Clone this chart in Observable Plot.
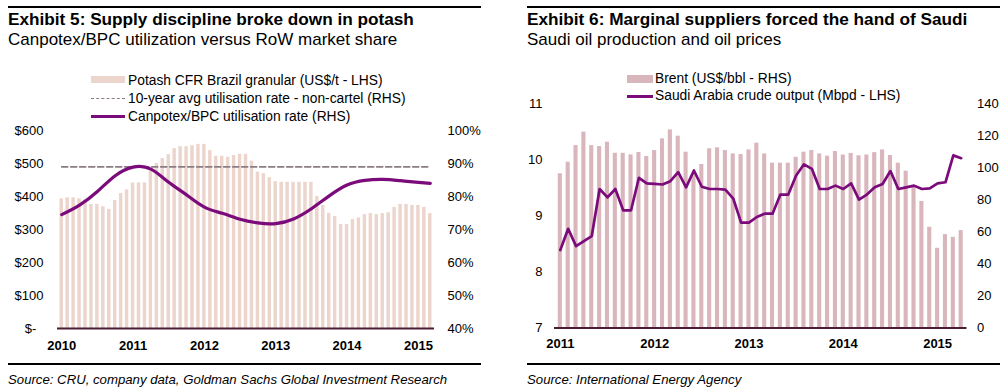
<!DOCTYPE html>
<html><head><meta charset="utf-8">
<script src="https://cdn.jsdelivr.net/npm/d3@7"></script>
<script src="https://cdn.jsdelivr.net/npm/@observablehq/plot@0.6"></script>
<style>
body{margin:0;background:#fff;font-family:"Liberation Sans",Arial,sans-serif;width:1004px;height:390px;position:relative;overflow:hidden;color:#000}
.rule{position:absolute;height:2px;background:#000}
.title{position:absolute;font-weight:bold;font-size:17.2px;white-space:nowrap;line-height:1}
.sub{position:absolute;font-size:17px;white-space:nowrap;line-height:1}
.leg{position:absolute;font-size:13.8px;white-space:nowrap;line-height:1}
.src{position:absolute;font-size:13.2px;font-style:italic;white-space:nowrap;line-height:1}
.sw{position:absolute}
.chart{position:absolute}
.chart svg{display:block}
</style></head><body>
<div class="rule" style="left:8px;top:6px;width:473px"></div>
<div class="rule" style="left:527px;top:6px;width:473px"></div>
<div class="title" style="left:8px;top:11px">Exhibit 5: Supply discipline broke down in potash</div>
<div class="sub" style="left:8px;top:30.5px">Canpotex/BPC utilization versus RoW market share</div>
<div class="title" style="left:527px;top:11px">Exhibit 6: Marginal suppliers forced the hand of Saudi</div>
<div class="sub" style="left:527px;top:30.5px">Saudi oil production and oil prices</div>

<div id="c1" class="chart" style="left:0;top:120px"></div>
<div id="c1b" class="chart" style="left:0;top:120px"></div>
<div id="c2" class="chart" style="left:520px;top:90px"></div>
<div id="c2b" class="chart" style="left:520px;top:90px"></div>

<div class="sw" style="left:91px;top:76px;width:34px;height:7px;background:#ecd5cd"></div>
<div class="leg" style="left:128px;top:73.5px">Potash CFR Brazil granular (US$/t - LHS)</div>
<div class="sw" style="left:91px;top:98px;width:34px;height:0;border-top:1.6px dashed #8b7d83"></div>
<div class="leg" style="left:128px;top:91.5px">10-year avg utilisation rate - non-cartel (RHS)</div>
<div class="sw" style="left:91px;top:115px;width:34px;height:2.5px;background:#7b0a7b"></div>
<div class="leg" style="left:128px;top:109.5px">Canpotex/BPC utilisation rate (RHS)</div>

<div class="sw" style="left:627px;top:75px;width:26px;height:8px;background:#d9b5bc"></div>
<div class="leg" style="left:655px;top:71.5px">Brent (US$/bbl - RHS)</div>
<div class="sw" style="left:627px;top:95px;width:26px;height:2.5px;background:#7b0a7b"></div>
<div class="leg" style="left:655px;top:88.5px">Saudi Arabia crude output (Mbpd - LHS)</div>

<div class="rule" style="left:8px;top:363px;width:473px"></div>
<div class="rule" style="left:527px;top:363px;width:473px"></div>
<div class="src" style="left:8px;top:373px">Source: CRU, company data, Goldman Sachs Global Investment Research</div>
<div class="src" style="left:527px;top:373px">Source: International Energy Agency</div>

<script>
// ---------- Exhibit 5 data ----------
const potashStart = "2010-01", potashEnd = "2015-04"; // months Jan 2010 .. Mar 2015
const potashPrice = [393,396,396,393,390,376,376,369,361,388,409,420,
  441,441,441,478,500,515,527,545,551,551,554,558,
  558,539,522,522,519,524,528,528,507,474,469,457,
  445,443,443,443,443,443,443,400,373,349,339,315,
  315,330,335,345,348,345,348,351,367,376,376,373,
  373,367,348];
const utilMonths = ["2010-01","2010-04","2010-07","2010-10","2011-01","2011-04","2011-07","2011-10",
  "2012-01","2012-04","2012-07","2012-10","2013-01","2013-04","2013-07","2013-10",
  "2014-01","2014-04","2014-07","2014-10","2015-01","2015-03"];
const utilRate = [74.5,77.4,81.5,86.3,88.9,88.3,84.3,80.5,
  76.8,74.9,73.1,72.0,71.8,73.2,76.3,80.2,
  83.5,84.9,85.2,84.8,84.3,84.0];
const avgUtil = 89;
const potashTicks = [0,100,200,300,400,500,600];
const pctTicks = [40,50,60,70,80,90,100];

// ---------- Exhibit 6 data ----------
const oilStart = "2011-01", oilEnd = "2015-05"; // Jan 2011 .. Apr 2015
const brent = [96.3,103.5,113.9,122.3,113.9,113.3,116,109.1,109.1,108.1,109.6,107.1,
  110.8,118.1,123.7,119.8,109.8,96,102.1,111.9,112.5,110.8,108.7,108.3,
  111.2,115.4,108.7,102.9,102.9,102.9,106.6,109.8,110.8,108.7,107.3,110.2,
  108,109,107.5,108,109.5,111.2,107.7,102.9,97.9,88,79,62.9,
  49.8,58.3,56.6,60.8];
const saudi = [8.39,8.77,8.46,8.55,8.64,9.48,9.33,9.48,9.10,9.10,9.68,9.58,
  9.57,9.56,9.62,9.78,9.51,9.81,9.52,9.48,9.48,9.47,9.31,8.88,
  8.88,8.98,9.04,9.04,9.38,9.38,9.72,9.92,9.84,9.48,9.48,9.54,
  9.48,9.58,9.29,9.38,9.51,9.57,9.80,9.48,9.51,9.54,9.48,9.49,
  9.58,9.60,10.08,10.03];
const saudiTicks = [7,8,9,10,11];
const brentTicks = [0,20,40,60,80,100,120,140];

// ---------- helpers ----------
const fmtM = d3.utcFormat("%Y-%m");
const parseM = d3.utcParse("%Y-%m");
const monthsBetween = (a,b) => d3.utcMonths(parseM(a), parseM(b)).map(fmtM);
const months5 = monthsBetween(potashStart, potashEnd);
const months6 = monthsBetween(oilStart, oilEnd);
const jan5 = months5.filter(m => m.endsWith("-01"));
const jan6 = months6.filter(m => m.endsWith("-01"));

const FONT = "'Liberation Sans', Arial, sans-serif";
const baseStyle = {fontFamily: FONT, fontSize: "13px", color: "#000", background: "transparent", overflow: "visible"};

const PURPLE = "#7b0a7b", BASE = "#4b1c33";

// ---------- Exhibit 5 ----------
const dim5 = {width: 490, height: 240, marginLeft: 57, marginRight: 56, marginTop: 10, marginBottom: 32};
const x5 = {type: "band", domain: months5, padding: 0.42, label: null};
const priceData = months5.map((m, i) => ({m, v: potashPrice[i]}));
const utilData = utilMonths.map((m, i) => ({m, v: utilRate[i]}));
const avgData = [months5[0], months5[months5.length - 1]].map(m => ({m, v: avgUtil}));

document.getElementById("c1").append(Plot.plot({
  ...dim5, style: baseStyle, x: x5, y: {domain: [0, 600], label: null},
  marks: [
    Plot.barY(priceData, {x: "m", y: "v", fill: "#ecd5cd"}),
    Plot.ruleY([0], {stroke: BASE, strokeWidth: 2}),
    Plot.axisY({ticks: potashTicks, tickFormat: d => d === 0 ? "$-\u2007" : "$" + d, tickSize: 0, tickPadding: 14, fontSize: 13}),
    Plot.axisX({ticks: jan5, tickFormat: d => d.slice(0, 4), tickSize: 0, tickPadding: 12, fontWeight: "bold", fontSize: 13})
  ]
}));
document.getElementById("c1b").append(Plot.plot({
  ...dim5, style: baseStyle, x: {...x5, axis: null}, y: {domain: [40, 100], label: null},
  marks: [
    Plot.line(avgData, {x: "m", y: "v", stroke: "#8b7d83", strokeWidth: 1.7, strokeDasharray: "6,3"}),
    Plot.line(utilData, {x: "m", y: "v", stroke: PURPLE, strokeWidth: 3.2, curve: "natural"}),
    Plot.axisY({anchor: "right", ticks: pctTicks, tickFormat: d => d + "%", tickSize: 0, tickPadding: 13, fontSize: 13})
  ]
}));

// ---------- Exhibit 6 ----------
const dim6 = {width: 484, height: 270, marginLeft: 34, marginRight: 37.5, marginTop: 13.3, marginBottom: 32.5};
const x6 = {type: "band", domain: months6, padding: 0.48, label: null};
const brentData = months6.map((m, i) => ({m, v: brent[i]}));
const saudiData = months6.map((m, i) => ({m, v: saudi[i]}));

document.getElementById("c2").append(Plot.plot({
  ...dim6, style: baseStyle, x: x6, y: {domain: [0, 140], label: null},
  marks: [
    Plot.barY(brentData, {x: "m", y: "v", fill: "#d9b5bc"}),
    Plot.ruleY([0], {stroke: BASE, strokeWidth: 2}),
    Plot.axisY({anchor: "right", ticks: brentTicks, tickFormat: d => String(d), tickSize: 0, tickPadding: 10, fontSize: 13}),
    Plot.axisX({ticks: jan6, tickFormat: d => d.slice(0, 4), tickSize: 0, tickPadding: 11, fontWeight: "bold", fontSize: 13})
  ]
}));
document.getElementById("c2b").append(Plot.plot({
  ...dim6, style: baseStyle, x: {...x6, axis: null}, y: {domain: [7, 11], label: null},
  marks: [
    Plot.line(saudiData, {x: "m", y: "v", stroke: PURPLE, strokeWidth: 2.7}),
    Plot.axisY({anchor: "left", ticks: saudiTicks, tickFormat: d => String(d), tickSize: 0, tickPadding: 12, fontSize: 13})
  ]
}));
</script>
</body></html>
